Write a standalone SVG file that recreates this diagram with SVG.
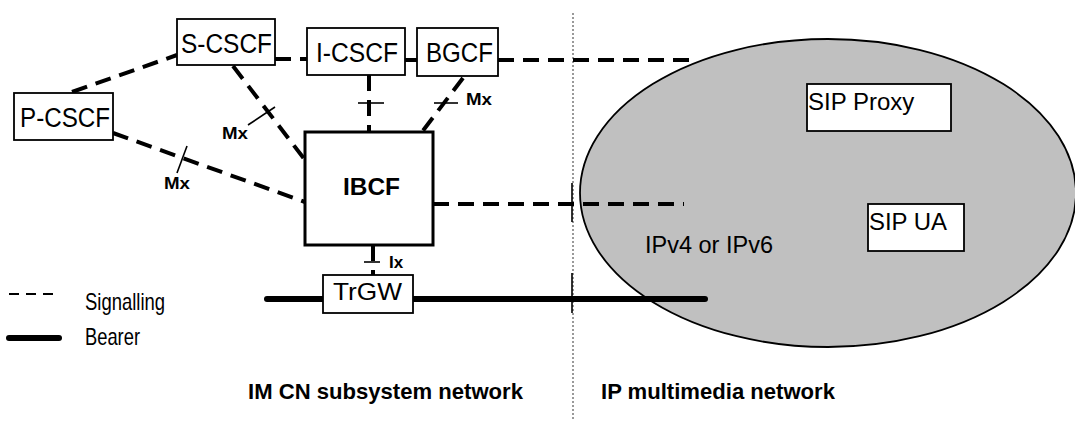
<svg xmlns="http://www.w3.org/2000/svg" width="1075" height="421" viewBox="0 0 1075 421">
<style>
.box{fill:#fff;stroke:#000;stroke-width:1.8}
.lbl{font-family:"Liberation Sans",Arial,sans-serif;font-size:27px;fill:#000}
.sm{font-family:"Liberation Sans",Arial,sans-serif;font-size:24px;fill:#000}
.b{font-family:"Liberation Sans",Arial,sans-serif;font-weight:bold;fill:#000}
.sig{stroke:#000;stroke-width:4;stroke-dasharray:16 9;fill:none}
.thin{stroke:#000;stroke-width:1.6;fill:none}
.bear{stroke:#000;stroke-width:6;stroke-linecap:round;fill:none}
</style>
<rect width="1075" height="421" fill="#fff"/>
<g id="ipnet">
<ellipse cx="828" cy="193" rx="248" ry="154" fill="#c0c0c0" stroke="#000" stroke-width="1.8"/>
<text class="sm" x="645" y="253" textLength="128" lengthAdjust="spacingAndGlyphs">IPv4 or IPv6</text>
</g>
<line id="boundary" x1="573" y1="13" x2="573" y2="421" stroke="#999" stroke-width="2" stroke-dasharray="2 2"/>
<g id="connectors">
<line class="sig" x1="72" y1="92" x2="177" y2="55"/>
<line class="sig" x1="275" y1="59" x2="307" y2="59"/>
<line class="sig" x1="405" y1="60" x2="417" y2="60"/>
<line class="sig" x1="498" y1="60" x2="692" y2="60"/>
<line class="sig" x1="233" y1="66" x2="305" y2="160"/>
<line class="sig" x1="113" y1="133" x2="305" y2="202"/>
<line class="sig" x1="463" y1="78" x2="422" y2="132"/>
<line class="sig" x1="369" y1="75" x2="369" y2="132" stroke-dasharray="17 13"/>
<line class="sig" x1="373" y1="245" x2="373" y2="275" stroke-dasharray="6 6"/>
<line class="sig" x1="433" y1="204" x2="684" y2="204"/>
<line class="bear" x1="267" y1="299" x2="323" y2="299"/>
<line class="bear" x1="413" y1="299" x2="705" y2="299"/>
<line class="thin" x1="572" y1="183" x2="572" y2="222"/>
<line class="thin" x1="572" y1="273" x2="572" y2="313"/>
<line class="thin" x1="248" y1="125" x2="275" y2="107"/>
<line class="thin" x1="177" y1="173" x2="187" y2="146"/>
<line class="thin" x1="358" y1="103" x2="384" y2="103" stroke-width="2"/>
<line class="thin" x1="434" y1="103" x2="458" y2="103" stroke-width="2"/>
<line class="thin" x1="364" y1="262" x2="380" y2="262" stroke-width="2"/>
<text class="b" x="222" y="139" font-size="17" textLength="26" lengthAdjust="spacingAndGlyphs">Mx</text>
<text class="b" x="164" y="189" font-size="17" textLength="26" lengthAdjust="spacingAndGlyphs">Mx</text>
<text class="b" x="466" y="105" font-size="17" textLength="26" lengthAdjust="spacingAndGlyphs">Mx</text>
<text class="b" x="389" y="268" font-size="17">Ix</text>
</g>
<g id="scscf"><rect class="box" x="177" y="19" width="98" height="46"/><text class="lbl" x="181" y="53" textLength="91" lengthAdjust="spacingAndGlyphs">S-CSCF</text></g>
<g id="pcscf"><rect class="box" x="14" y="93" width="99" height="47"/><text class="lbl" x="20" y="127" textLength="90" lengthAdjust="spacingAndGlyphs">P-CSCF</text></g>
<g id="icscf"><rect class="box" x="307" y="28" width="98" height="47"/><text class="lbl" x="316" y="62" textLength="82" lengthAdjust="spacingAndGlyphs">I-CSCF</text></g>
<g id="bgcf"><rect class="box" x="417" y="28" width="81" height="48"/><text class="lbl" x="426" y="62" textLength="67" lengthAdjust="spacingAndGlyphs">BGCF</text></g>
<g id="ibcf"><rect x="305" y="132" width="128" height="113" fill="#fff" stroke="#000" stroke-width="3"/><text class="b" x="343" y="195" font-size="24" textLength="57" lengthAdjust="spacingAndGlyphs">IBCF</text></g>
<g id="trgw"><rect class="box" x="323" y="275" width="90" height="38"/><text class="sm" x="333" y="300" textLength="69" lengthAdjust="spacingAndGlyphs">TrGW</text></g>
<g id="sipproxy"><rect class="box" x="807" y="84" width="144" height="47"/><text class="sm" x="808" y="110">SIP Proxy</text></g>
<g id="sipua"><rect class="box" x="868" y="204" width="96" height="47"/><text class="sm" x="869" y="230" textLength="78" lengthAdjust="spacingAndGlyphs">SIP UA</text></g>
<g id="legend">
<line x1="9" y1="294" x2="55" y2="294" stroke="#000" stroke-width="2" stroke-dasharray="10 7"/>
<text class="sm" x="85" y="310" font-size="19" textLength="80" lengthAdjust="spacingAndGlyphs">Signalling</text>
<line class="bear" x1="9" y1="338" x2="59" y2="338"/>
<text class="sm" x="85" y="345" font-size="18" textLength="55" lengthAdjust="spacingAndGlyphs">Bearer</text>
</g>
<text class="b" x="248" y="399" font-size="22" textLength="275" lengthAdjust="spacingAndGlyphs">IM CN subsystem network</text>
<text class="b" x="601" y="399" font-size="22" textLength="234" lengthAdjust="spacingAndGlyphs">IP multimedia network</text>
</svg>
